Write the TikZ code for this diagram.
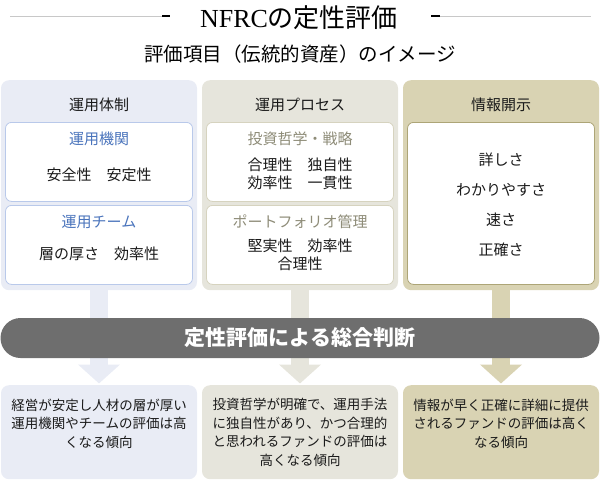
\documentclass[tikz,border=0pt]{standalone}
\usepackage{fontspec}
\setmainfont{Noto Sans CJK JP}
\newfontfamily\latinserif{Liberation Serif}
\usetikzlibrary{arrows.meta}
\definecolor{cAbg}{HTML}{E9ECF5}
\definecolor{cAbd}{HTML}{B9C9EA}
\definecolor{cAtx}{HTML}{4A74BC}
\definecolor{cBbg}{HTML}{E6E5DC}
\definecolor{cBbd}{HTML}{D6D3BF}
\definecolor{cBtx}{HTML}{8E8C78}
\definecolor{cCbg}{HTML}{D9D3B3}
\definecolor{cCbd}{HTML}{ADA577}
\definecolor{bandc}{HTML}{6E6E6E}
\definecolor{txt}{HTML}{1A1A1A}
\definecolor{rulec}{HTML}{C8C8C8}
\begin{document}
\begin{tikzpicture}[x=1pt,y=-1pt,
  panel/.style={rounded corners=8pt, minimum width=196pt, minimum height=210pt, inner sep=0pt, anchor=north, draw=none},
  inbox/.style={rounded corners=6pt, minimum width=187pt, inner sep=0pt, anchor=north, fill=white, line width=0.8pt},
  hdr/.style={font=\fontsize{15}{18}\selectfont, text=txt, inner sep=0pt},
  body/.style={font=\fontsize{15}{18}\selectfont, text=txt, inner sep=0pt, align=center},
  bottombox/.style={rounded corners=8pt, minimum width=196pt, minimum height=94pt, inner sep=0pt, anchor=north, draw=none},
  bottomtext/.style={font=\fontsize{13.5}{18.5}\selectfont, text=txt, inner sep=0pt, align=center},
  downarrow/.style={line width=18pt, -{Triangle[width=41pt,length=19pt]}, shorten >=1.5pt}
]
\useasboundingbox (0,0) rectangle (600,501);

% title
\draw[rulec, line width=0.8pt] (10,16) -- (162,16);
\draw[black, line width=1.2pt] (162,16) -- (170,16);
\draw[black, line width=1.2pt] (431,16) -- (440,16);
\draw[rulec, line width=0.8pt] (440,16) -- (591,16);
\node[font=\fontsize{26}{29}\selectfont, text=black, inner sep=0pt] (title) at (299,18) {{\latinserif NFRC}の定性評価};
\node[font=\fontsize{19.5}{22}\selectfont, text=black, inner sep=0pt] (subtitle) at (300,54) {評価項目（伝統的資産）のイメージ};

% panels
\node[panel, fill=cAbg] (p1) at (99,80) {};
\node[panel, fill=cBbg] (p2) at (300,80) {};
\node[panel, fill=cCbg] (p3) at (501,80) {};
\node[hdr] (h1) at (99,105) {運用体制};
\node[hdr] (h2) at (300,105) {運用プロセス};
\node[hdr] (h3) at (501,105) {情報開示};

% column 1
\node[inbox, draw=cAbd, minimum height=79pt] (i11) at (99,122) {};
\node[inbox, draw=cAbd, minimum height=79pt] (i12) at (99,205) {};
\node[hdr, text=cAtx] (t11) at (99,139) {運用機関};
\node[body] (b11) at (99,175) {安全性　安定性};
\node[hdr, text=cAtx] (t12) at (99,222) {運用チーム};
\node[body] (b12) at (99,254) {層の厚さ　効率性};

% column 2
\node[inbox, draw=cBbd, minimum height=79pt] (i21) at (300,122) {};
\node[inbox, draw=cBbd, minimum height=79pt] (i22) at (300,205) {};
\node[hdr, text=cBtx] (t21) at (300,139) {投資哲学・戦略};
\node[body] (b21) at (300,174) {合理性　独自性\\効率性　一貫性};
\node[hdr, text=cBtx] (t22) at (300,222) {ポートフォリオ管理};
\node[body] (b22) at (300,255) {堅実性　効率性\\合理性};

% column 3
\node[inbox, draw=cCbd, minimum height=162pt] (i31) at (501,122) {};
\node[body] (b31) at (501,160) {詳しさ};
\node[body] (b32) at (501,190) {わかりやすさ};
\node[body] (b33) at (501,220) {速さ};
\node[body] (b34) at (501,250) {正確さ};

% bottom boxes
\node[bottombox, fill=cAbg] (q1) at (99,385) {};
\node[bottombox, fill=cBbg] (q2) at (300,385) {};
\node[bottombox, fill=cCbg] (q3) at (501,385) {};
\node[bottomtext] (r1) at (99,423.5) {経営が安定し人材の層が厚い\\運用機関やチームの評価は高\\くなる傾向};
\node[bottomtext] (r2) at (300,432.5) {投資哲学が明確で、運用手法\\に独自性があり、かつ合理的\\と思われるファンドの評価は\\高くなる傾向};
\node[bottomtext] (r3) at (501,423.5) {情報が早く正確に詳細に提供\\されるファンドの評価は高く\\なる傾向};

% arrows
\draw[downarrow, cAbg] (p1.south) -- (q1.north);
\draw[downarrow, cBbg] (p2.south) -- (q2.north);
\draw[downarrow, cCbg] (p3.south) -- (q3.north);

% band
\node[fill=bandc, rounded corners=20pt, minimum width=599pt, minimum height=40pt, inner sep=0pt,
      text=white, font=\fontsize{21}{24}\selectfont\bfseries] (band) at (300,338) {定性評価による総合判断};
\end{tikzpicture}
\end{document}
